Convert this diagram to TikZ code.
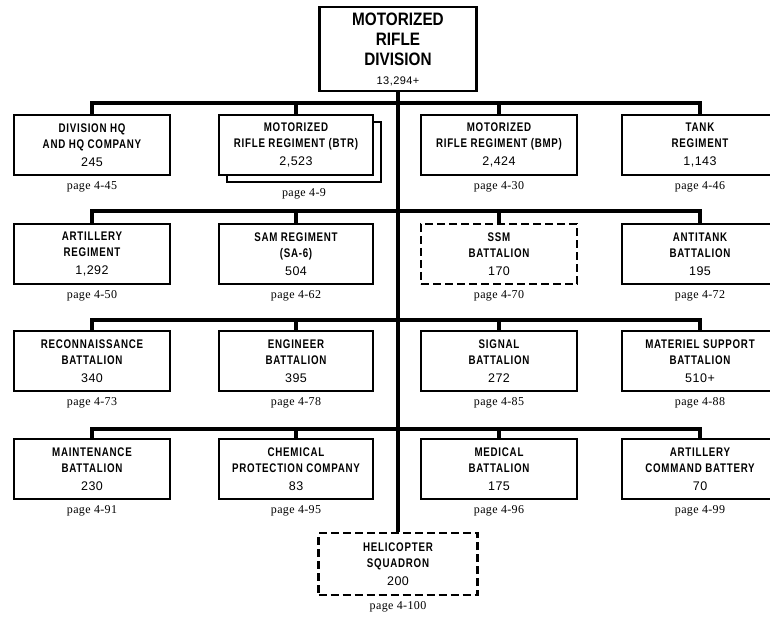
\documentclass[tikz,border=0pt]{standalone}
\usepackage{fontspec}
\usetikzlibrary{positioning}
\newfontfamily\headfont[FakeStretch=0.85]{Liberation Sans}
\newfontfamily\unitfont[FakeStretch=0.78, LetterSpace=6]{Liberation Sans}
\newfontfamily\numfont[LetterSpace=4]{Liberation Sans}
\newfontfamily\pagefont[LetterSpace=3]{Liberation Serif}
\newcommand\ttl{\unitfont\bfseries\fontsize{12.5}{16}\selectfont}
\newcommand\nmb{\numfont\mdseries\fontsize{12.5}{16}\selectfont}
\newcommand\pg{\pagefont\fontsize{12}{13}\selectfont}

\begin{document}
\begin{tikzpicture}[x=1pt, y=-1pt, line width=2.5pt,
    unit/.style = {draw, rectangle, fill=white,
        minimum width=156pt, minimum height=60pt,
        inner sep=0pt, align=center, font=\ttl},
    planned/.style = {dash pattern=on 8pt off 4pt},
    pagenum/.style = {font=\pg, inner sep=0pt},
    bus/.style = {line width=4pt}]

\useasboundingbox (0,0) rectangle (770,617);

% Division
\node[unit, minimum width=157pt, minimum height=84pt,
      font=\headfont\bfseries\fontsize{18}{20}\selectfont] (mrd) at (398,49)
    {MOTORIZED\\RIFLE\\DIVISION\\[-1pt]
     \numfont\mdseries\fontsize{11}{13}\selectfont 13,294+};

% First row
\node[unit] (hq) at (92,145) {DIVISION HQ\\AND HQ COMPANY\\[2pt]\nmb 245};
\node[unit, minimum width=154pt] (btrshadow) at (304,152) {};
\node[unit, minimum width=154pt] (btr) at (296,145) {MOTORIZED\\RIFLE REGIMENT (BTR)\\[2pt]\nmb 2,523};
\node[unit] (bmp) at (499,145) {MOTORIZED\\RIFLE REGIMENT (BMP)\\[2pt]\nmb 2,424};
\node[unit] (tank) at (700,145) {TANK\\REGIMENT\\[2pt]\nmb 1,143};

\node[pagenum, below=4pt of hq] (hqpg) {page 4-45};
\node[pagenum, below=4pt of btrshadow] (btrpg) {page 4-9};
\node[pagenum, below=4pt of bmp] (bmppg) {page 4-30};
\node[pagenum, below=4pt of tank] (tankpg) {page 4-46};

% Second row
\node[unit] (arty) at (92,254) {ARTILLERY\\REGIMENT\\[2pt]\nmb 1,292};
\node[unit, minimum width=154pt] (sam) at (296,254) {SAM REGIMENT\\(SA-6)\\[2pt]\nmb 504};
\node[unit, planned] (ssm) at (499,254) {SSM\\BATTALION\\[2pt]\nmb 170};
\node[unit] (at) at (700,254) {ANTITANK\\BATTALION\\[2pt]\nmb 195};

\node[pagenum, below=4pt of arty] (artypg) {page 4-50};
\node[pagenum, below=4pt of sam] (sampg) {page 4-62};
\node[pagenum, below=4pt of ssm] (ssmpg) {page 4-70};
\node[pagenum, below=4pt of at] (atpg) {page 4-72};

% Third row
\node[unit] (recon) at (92,361) {RECONNAISSANCE\\BATTALION\\[2pt]\nmb 340};
\node[unit, minimum width=154pt] (engr) at (296,361) {ENGINEER\\BATTALION\\[2pt]\nmb 395};
\node[unit] (sig) at (499,361) {SIGNAL\\BATTALION\\[2pt]\nmb 272};
\node[unit] (mat) at (700,361) {MATERIEL SUPPORT\\BATTALION\\[2pt]\nmb 510+};

\node[pagenum, below=4pt of recon] (reconpg) {page 4-73};
\node[pagenum, below=4pt of engr] (engrpg) {page 4-78};
\node[pagenum, below=4pt of sig] (sigpg) {page 4-85};
\node[pagenum, below=4pt of mat] (matpg) {page 4-88};

% Fourth row
\node[unit] (maint) at (92,469) {MAINTENANCE\\BATTALION\\[2pt]\nmb 230};
\node[unit, minimum width=154pt] (chem) at (296,469) {CHEMICAL\\PROTECTION COMPANY\\[2pt]\nmb 83};
\node[unit] (med) at (499,469) {MEDICAL\\BATTALION\\[2pt]\nmb 175};
\node[unit] (acb) at (700,469) {ARTILLERY\\COMMAND BATTERY\\[2pt]\nmb 70};

\node[pagenum, below=4pt of maint] (maintpg) {page 4-91};
\node[pagenum, below=4pt of chem] (chempg) {page 4-95};
\node[pagenum, below=4pt of med] (medpg) {page 4-96};
\node[pagenum, below=4pt of acb] (acbpg) {page 4-99};

% Helicopter squadron
\node[unit, planned, minimum width=159pt, minimum height=62pt] (heli) at (398,564)
    {HELICOPTER\\SQUADRON\\[2pt]\nmb 200};
\node[pagenum, below=4pt of heli] (helipg) {page 4-100};

% Trunk and buses
\coordinate (b1) at (398,103);
\coordinate (b2) at (398,211);
\coordinate (b3) at (398,320);
\coordinate (b4) at (398,429);

\draw[bus] (mrd.south) -- (heli.north);
\foreach \n/\b in {hq/b1, btr/b1, bmp/b1, tank/b1,
                   arty/b2, sam/b2, ssm/b2, at/b2,
                   recon/b3, engr/b3, sig/b3, mat/b3,
                   maint/b4, chem/b4, med/b4, acb/b4}
    \draw[bus] (\n.north) |- (\b);
\end{tikzpicture}
\end{document}
